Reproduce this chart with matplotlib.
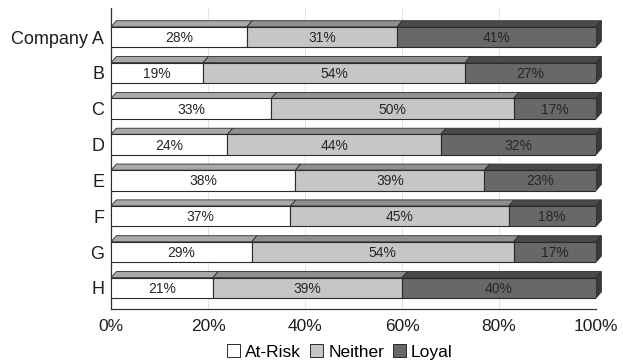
"""Stacked 3D-style horizontal bars: customer loyalty split per company."""

import matplotlib.pyplot as plt
from matplotlib.patches import Patch, Polygon

plt.rcParams["font.family"] = ["Liberation Sans", "DejaVu Sans"]

companies = ["Company A", "B", "C", "D", "E", "F", "G", "H"]
at_risk = [28, 19, 33, 24, 38, 37, 29, 21]
neither = [31, 54, 50, 44, 39, 45, 54, 39]
loyal = [41, 27, 17, 32, 23, 18, 17, 40]
series_names = ["At-Risk", "Neither", "Loyal"]

front_colors = ["#ffffff", "#c6c6c6", "#686868"]
top_colors = ["#a9a9a9", "#8f8f8f", "#4a4a4a"]
end_color = "#3a3a3a"
edge = "#2a2a2a"

bar_h = 0.57
dx, dy = 0.011, 0.17  # depth offset of the top faces

fig = plt.figure(figsize=(6.23, 3.62), dpi=100)
ax = fig.add_axes([111 / 623, 1 - 309 / 362, 485 / 623, 301 / 362])

ys = list(range(len(companies)))
left = [0.0] * len(companies)
for vals, fc, tc in zip([at_risk, neither, loyal], front_colors, top_colors):
    widths = [v / 100 for v in vals]
    ax.barh(ys, widths, left=left, height=bar_h, color=fc,
            edgecolor=edge, linewidth=0.8, zorder=3)
    for y, l, w, v in zip(ys, left, widths, vals):
        top = y - bar_h / 2
        ax.add_patch(Polygon([(l, top), (l + dx, top - dy),
                              (l + w + dx, top - dy), (l + w, top)],
                             closed=True, facecolor=tc, edgecolor=edge,
                             linewidth=0.6, zorder=2, clip_on=False))
        ax.text(l + w / 2, y + 0.03, f"{v}%", ha="center", va="center",
                fontsize=10, color="#262626", zorder=5)
    left = [a + b for a, b in zip(left, widths)]

# right end cap of every bar
for y, total in zip(ys, left):
    top, bot = y - bar_h / 2, y + bar_h / 2
    ax.add_patch(Polygon([(total, top), (total + dx, top - dy),
                          (total + dx, bot - dy), (total, bot)],
                         closed=True, facecolor=end_color, edgecolor=edge,
                         linewidth=0.6, zorder=2, clip_on=False))

ax.set_xlim(0, 1)
ax.set_ylim(7.59, -0.81)
ax.set_yticks(ys)
ax.set_yticklabels(companies, fontsize=13)
ax.set_xticks([0, 0.2, 0.4, 0.6, 0.8, 1.0])
ax.set_xticklabels(["0%", "20%", "40%", "60%", "80%", "100%"], fontsize=12.5)
ax.tick_params(length=0, pad=7, colors="#1e1e1e")
ax.tick_params(axis="y", pad=5)
ax.grid(axis="x", color="#e4e4e4", linewidth=0.7, zorder=0)

for side in ("top", "right"):
    ax.spines[side].set_visible(False)
for side in ("left", "bottom"):
    ax.spines[side].set_color("#333333")
    ax.spines[side].set_linewidth(0.9)

handles = [Patch(facecolor=c, edgecolor=edge, linewidth=0.7)
           for c in front_colors]
fig.legend(handles, series_names, loc="center", bbox_to_anchor=(340 / 623, 1 - 352 / 362),
           ncol=3, frameon=False, fontsize=12.5, handlelength=0.75,
           handleheight=0.75, handletextpad=0.3, columnspacing=0.5,
           borderpad=0.1)

fig.savefig("out.png", dpi=100, facecolor="white")
